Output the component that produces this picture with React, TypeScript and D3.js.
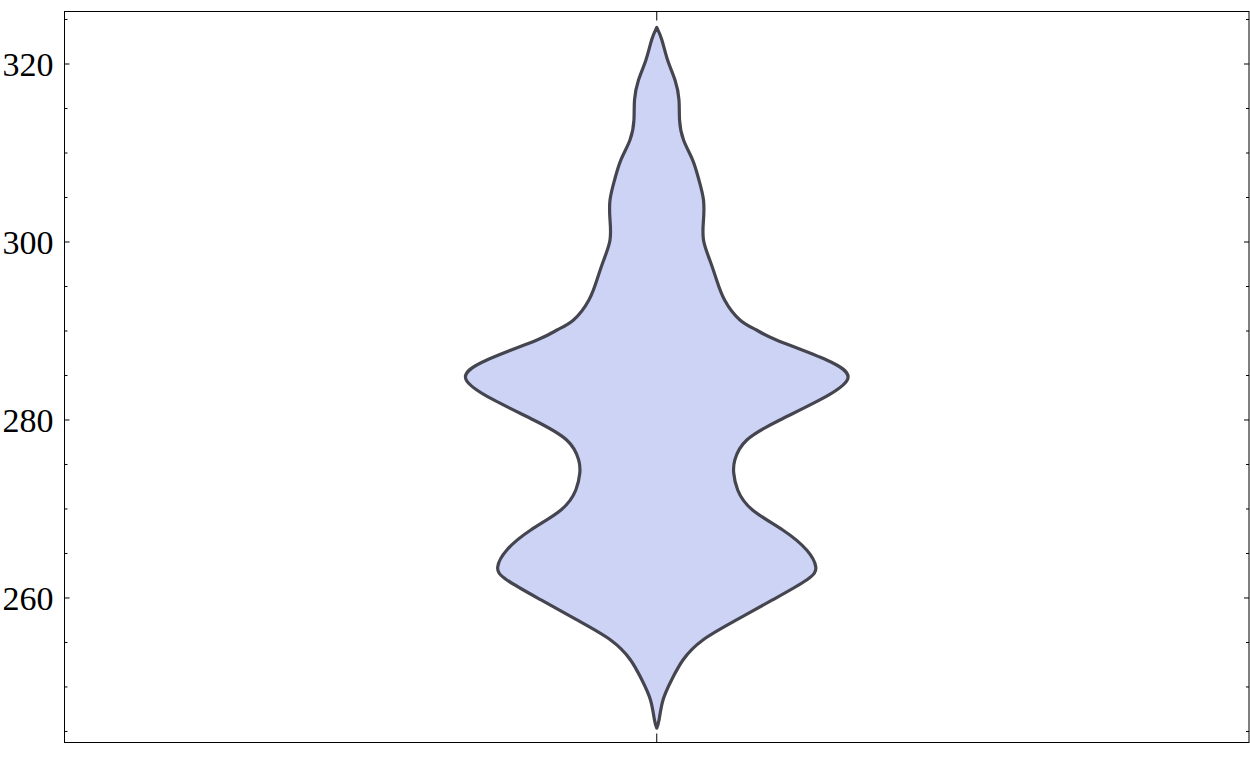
import React from 'react';
import { scaleLinear, area, curveNatural, range } from 'd3';

// kernel density profile: value -> density
const values = [
  324.12, 322.7, 320.45, 318.2, 315.96, 313.71, 311.46, 309.21, 306.97, 304.72,
  302.47, 300.22, 297.98, 295.73, 293.48, 291.24, 290.11, 288.99, 286.74, 284.61,
  282.25, 280.0, 277.75, 275.51, 274.04, 272.13, 269.89, 267.64, 265.39, 263.48,
  262.02, 259.78, 257.53, 255.28, 253.03, 250.79, 248.54, 246.29, 245.39
];
const densities = [
  0, 0.0009, 0.0019, 0.0032, 0.0039, 0.004, 0.0047, 0.0063, 0.0074, 0.0082,
  0.0082, 0.0082, 0.0093, 0.0105, 0.0119, 0.0146, 0.0175, 0.021, 0.0298, 0.0335,
  0.0286, 0.0216, 0.0158, 0.0137, 0.0135, 0.0142, 0.0168, 0.0221, 0.0263, 0.0279,
  0.0263, 0.0203, 0.014, 0.0081, 0.0046, 0.0026, 0.0011, 0.0004, 0
];
const majorTicks = [260, 280, 300, 320];
const minorTicks = range(245, 326, 5).filter(t => t % 20 !== 0);

const W = 1250;
const H = 757;
const left = 64.5;
const right = 1249;
const top = 11.5;
const bottom = 742.5;

const App = () => {
  const yScale = scaleLinear().domain([243.76, 325.9]).range([bottom, top]);
  const xScale = scaleLinear().domain([-0.1039, 0.1039]).range([left, right]);

  const points = values.map((v, i) => ({ v, d: densities[i] }));
  const violin = area<{ v: number; d: number }>()
    .y(p => yScale(p.v))
    .x0(p => xScale(-p.d))
    .x1(p => xScale(p.d))
    .curve(curveNatural);

  const cx = xScale(0);

  return (
    <svg
      width={W}
      height={H}
      style={{ position: 'absolute', left: 0, top: 0, background: '#fff' }}
    >
      <path
        d={violin(points) || ''}
        fill="#cdd3f5"
        stroke="#45454f"
        strokeWidth={3.2}
        strokeLinejoin="round"
      />
      <rect
        x={left}
        y={top}
        width={right - left}
        height={bottom - top}
        fill="none"
        stroke="#000"
        strokeWidth={1}
      />
      {majorTicks.map(t => (
        <g key={t}>
          <line x1={left} x2={left + 5} y1={yScale(t)} y2={yScale(t)} stroke="#000" />
          <line x1={right} x2={right - 5} y1={yScale(t)} y2={yScale(t)} stroke="#000" />
          <text
            x={left - 11}
            y={yScale(t)}
            dy="0.35em"
            textAnchor="end"
            fontFamily="'Liberation Serif', 'Times New Roman', serif"
            fontSize={34}
            fill="#000"
          >
            {t}
          </text>
        </g>
      ))}
      {minorTicks.map(t => (
        <g key={t}>
          <line x1={left} x2={left + 3} y1={yScale(t)} y2={yScale(t)} stroke="#000" />
          <line x1={right} x2={right - 3} y1={yScale(t)} y2={yScale(t)} stroke="#000" />
        </g>
      ))}
      <line x1={cx} x2={cx} y1={top} y2={top + 9} stroke="#000" />
      <line x1={cx} x2={cx} y1={bottom} y2={bottom - 9} stroke="#000" />
    </svg>
  );
};

export default App;
